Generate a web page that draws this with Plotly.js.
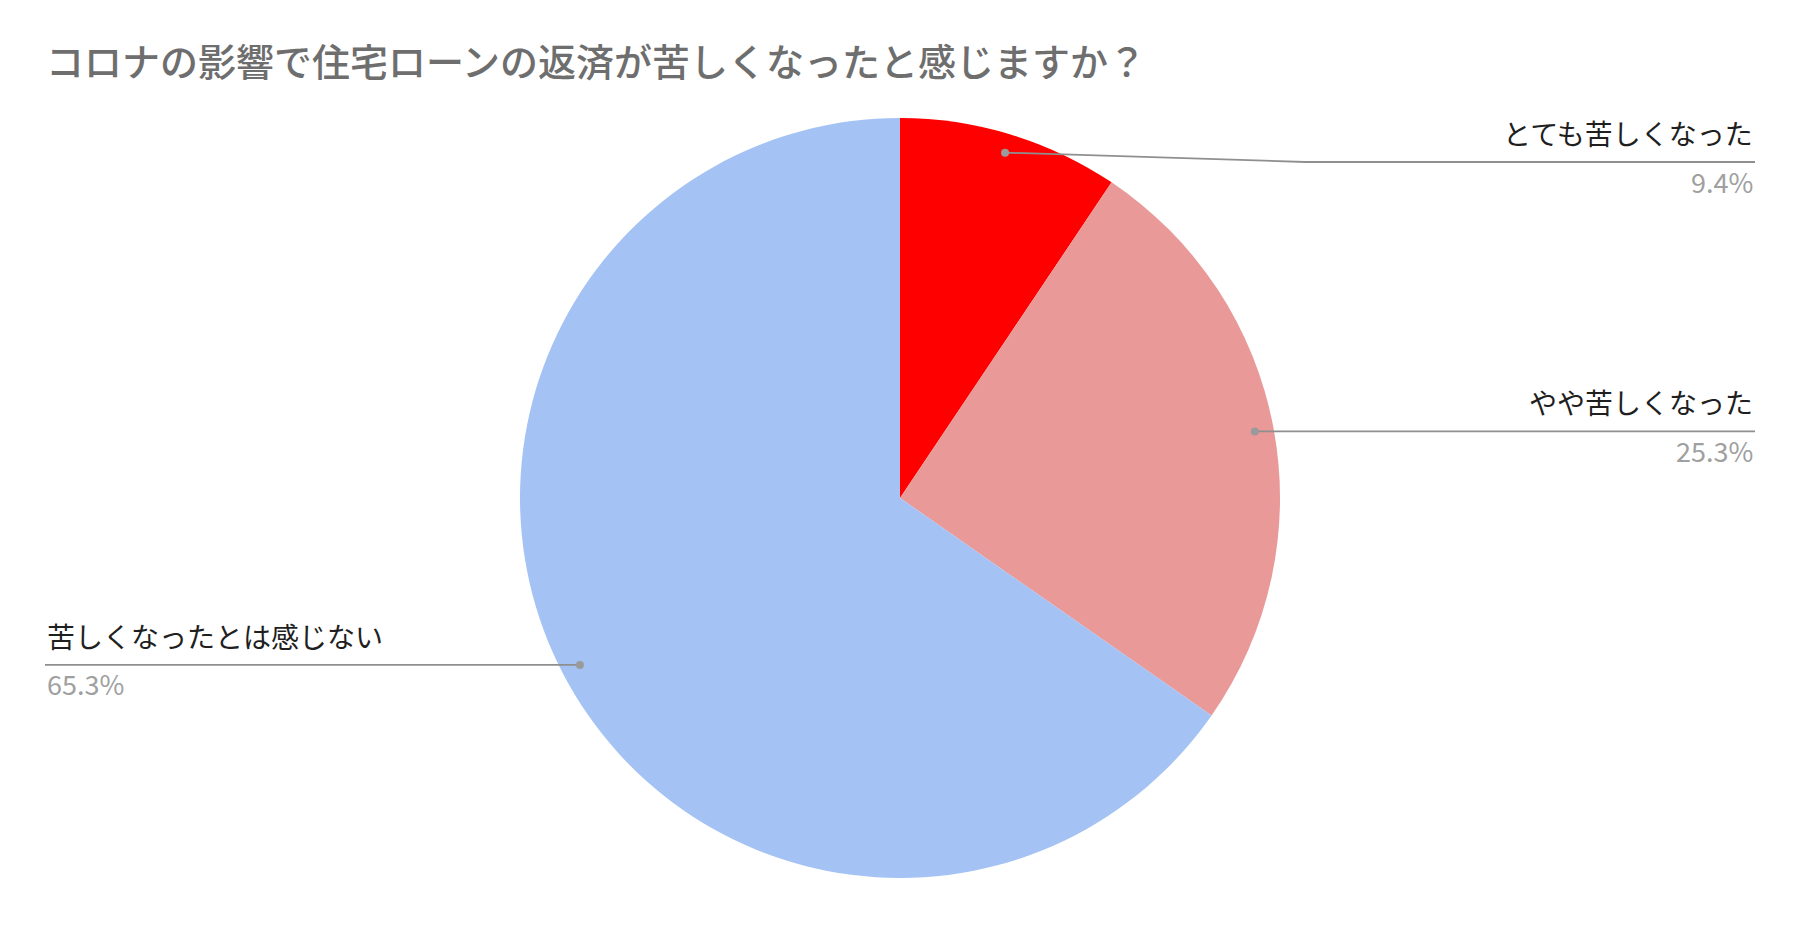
<!DOCTYPE html>
<html>
<head>
<meta charset="utf-8">
<script src="https://cdn.plot.ly/plotly-3.0.1.min.js"></script>
<style>
  body { margin: 0; background: #fff; }
  #chart { width: 1800px; height: 925px; }
</style>
</head>
<body>
<div id="chart"></div>
<script>
var labels = ["とても苦しくなった", "やや苦しくなった", "苦しくなったとは感じない"];
var values = [9.4, 25.3, 65.3];
var colors = ["#ff0000", "#ea9999", "#a4c2f4"];
var titleText = "コロナの影響で住宅ローンの返済が苦しくなったと感じますか？";

var W = 1800, H = 925;
// pie geometry in pixels
var CX = 900, CY = 498, R = 380;
var RIGHT_END = 1755, LEFT_END = 45;
var MIN_LINE_Y = 162;
var FONT = "Noto Sans CJK JP, Noto Sans, sans-serif";

function px(x) { return x / W; }
function py(y) { return 1 - y / H; }

var total = values.reduce(function (a, b) { return a + b; }, 0);

var shapes = [];
var annotations = [];
var acc = 0;
for (var i = 0; i < values.length; i++) {
  var mid = (acc + values[i] / 2) / total; // fraction of circle, clockwise from 12 o'clock
  acc += values[i];
  var ang = mid * 2 * Math.PI;
  var dx = CX + 0.95 * R * Math.sin(ang);
  var dy = CY - 0.95 * R * Math.cos(ang);
  var right = dx > CX;
  var lineY = Math.max(dy, MIN_LINE_Y);
  var endX = right ? RIGHT_END : LEFT_END;
  var bendX = right ? Math.min(dx + 300, endX) : Math.max(dx - 300, endX);
  var path = "M " + px(dx) + "," + py(dy) +
    " L " + px(bendX) + "," + py(lineY) +
    " L " + px(endX) + "," + py(lineY);
  shapes.push({
    type: "path", xref: "paper", yref: "paper", path: path,
    line: { color: "#8f8f8f", width: 1.8 }
  });
  shapes.push({
    type: "circle", xref: "paper", yref: "paper",
    x0: px(dx - 4), x1: px(dx + 4), y0: py(dy + 4), y1: py(dy - 4),
    fillcolor: "#9a9a9a", line: { width: 0 }
  });
  annotations.push({
    xref: "paper", yref: "paper", x: px(endX), y: py(lineY - 29),
    xanchor: right ? "right" : "left", yanchor: "middle",
    text: labels[i], showarrow: false,
    font: { family: FONT, size: 28, color: "#1f1f1f" }
  });
  annotations.push({
    xref: "paper", yref: "paper", x: px(endX), y: py(lineY + 19),
    xanchor: right ? "right" : "left", yanchor: "middle",
    text: (values[i] / total * 100).toFixed(1) + "%", showarrow: false,
    font: { family: FONT, size: 27, color: "#a0a0a0" }
  });
}

var data = [{
  type: "pie",
  labels: labels,
  values: values,
  marker: { colors: colors, line: { width: 0 } },
  sort: false,
  direction: "clockwise",
  rotation: 0,
  textinfo: "none",
  hoverinfo: "label+percent",
  domain: { x: [px(CX - R), px(CX + R)], y: [py(CY + R), py(CY - R)] }
}];

var layout = {
  width: W,
  height: H,
  margin: { l: 0, r: 0, t: 0, b: 0 },
  paper_bgcolor: "#ffffff",
  showlegend: false,
  title: {
    text: titleText,
    x: px(46), xref: "paper", xanchor: "left",
    y: py(63), yref: "paper", yanchor: "middle",
    font: { family: FONT, size: 38, color: "#6e6e6e", weight: 500 }
  },
  shapes: shapes,
  annotations: annotations
};

Plotly.newPlot("chart", data, layout, { displayModeBar: false });
</script>
</body>
</html>
